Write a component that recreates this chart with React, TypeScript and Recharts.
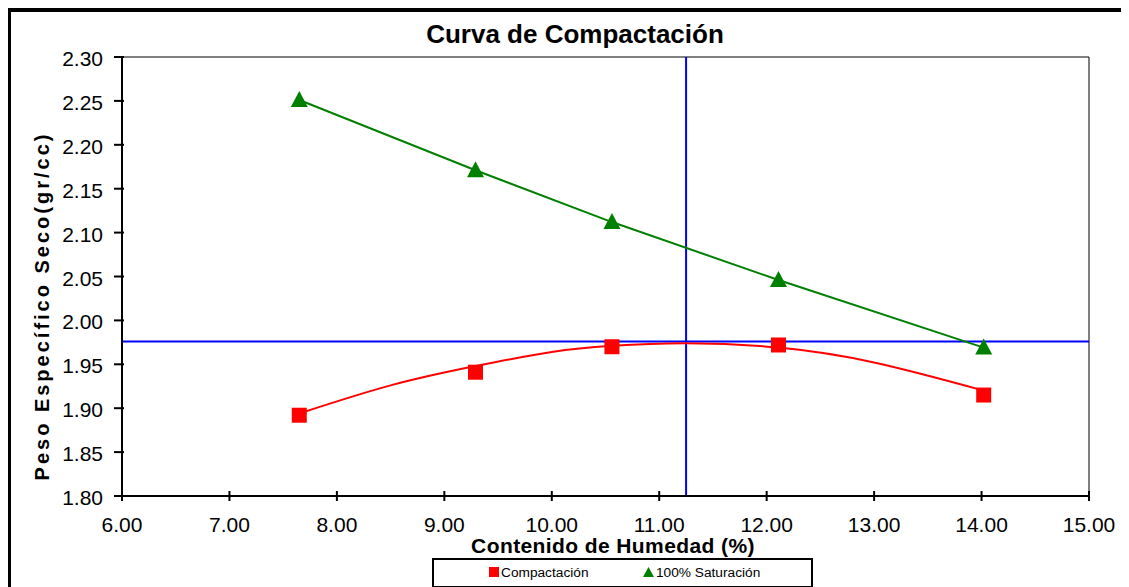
import { ComposedChart, Line, XAxis, YAxis, ReferenceLine } from 'recharts';

// Ensayo de compactación (Proctor)
const humedad = [7.65, 9.29, 10.56, 12.11, 14.02];
const pesoCompactacion = [1.892, 1.941, 1.97, 1.972, 1.915];
const pesoSaturacion = [2.251, 2.171, 2.112, 2.046, 1.969];

// curva de ajuste
const curvaHumedad = [7.65, 8.5, 9.29, 10.0, 10.56, 11.25, 12.11, 13.0, 14.02];
const curvaPeso = [1.894, 1.926, 1.948, 1.964, 1.971, 1.974, 1.969, 1.952, 1.92];

const humedadOptima = 11.25;
const densidadMaxima = 1.976;

const xTicks = [6, 7, 8, 9, 10, 11, 12, 13, 14, 15];
const yTicks = [1.8, 1.85, 1.9, 1.95, 2.0, 2.05, 2.1, 2.15, 2.2, 2.25, 2.3];

const FONT = '"Liberation Sans", Arial, sans-serif';

const compactacion = humedad.map((x, i) => ({ x, y: pesoCompactacion[i] }));
const saturacion = humedad.map((x, i) => ({ x, y: pesoSaturacion[i] }));
const curva = curvaHumedad.map((x, i) => ({ x, y: curvaPeso[i] }));

function XTick({ x, y, payload }: any) {
  return (
    <g>
      <line x1={x} x2={x} y1={y - 26} y2={y - 16} stroke="#000" strokeWidth={2} />
      <text x={x} y={y + 15} textAnchor="middle" fontSize={21} fontFamily={FONT} fill="#000">
        {Number(payload.value).toFixed(2)}
      </text>
    </g>
  );
}

function YTick({ x, y, payload }: any) {
  return (
    <g>
      <line x1={x + 11} x2={x + 21} y1={y} y2={y} stroke="#000" strokeWidth={2} />
      <text x={x} y={y + 9} textAnchor="end" fontSize={21} fontFamily={FONT} fill="#000">
        {Number(payload.value).toFixed(2)}
      </text>
    </g>
  );
}

function Square(props: any) {
  const { cx, cy, index } = props;
  if (cx == null || cy == null) return <g key={`sq-${index}`} />;
  return <rect key={`sq-${index}`} x={cx - 7.5} y={cy - 7.5} width={15} height={15} fill="#ff0000" />;
}

function Triangle(props: any) {
  const { cx, cy, index } = props;
  if (cx == null || cy == null) return <g key={`tr-${index}`} />;
  return (
    <path
      key={`tr-${index}`}
      d={`M${cx},${cy - 9} L${cx + 8.5},${cy + 7} L${cx - 8.5},${cy + 7} Z`}
      fill="#008000"
    />
  );
}

export default function App() {
  return (
    <div style={{ position: 'relative', width: 1121, height: 579, overflow: 'hidden', fontFamily: FONT }}>
      <div
        style={{
          position: 'absolute',
          left: 0,
          top: 0,
          width: 1121,
          height: 579,
          boxSizing: 'border-box',
          borderTop: '4px solid #000',
          borderLeft: '3px solid #000',
        }}
      />
      <div style={{ position: 'absolute', left: 3, top: 4 }}>
        <ComposedChart width={1118} height={575} margin={{ top: 45, right: 40, left: 0, bottom: 0 }}>
          <XAxis
            dataKey="x"
            type="number"
            domain={[6, 15]}
            ticks={xTicks}
            allowDataOverflow
            height={91}
            tickSize={0}
            tickMargin={21}
            tickLine={false}
            axisLine={{ stroke: '#000', strokeWidth: 2 }}
            tick={<XTick />}
          />
          <YAxis
            type="number"
            domain={[1.8, 2.3]}
            ticks={yTicks}
            allowDataOverflow
            width={111}
            tickSize={0}
            tickMargin={19}
            tickLine={false}
            axisLine={{ stroke: '#000', strokeWidth: 2 }}
            tick={<YTick />}
          />
          <ReferenceLine y={2.3} stroke="#000" strokeWidth={1} />
          <ReferenceLine x={15} stroke="#000" strokeWidth={1} />
          <ReferenceLine x={humedadOptima} stroke="#0000ff" strokeWidth={2} />
          <ReferenceLine y={densidadMaxima} stroke="#0000ff" strokeWidth={2} />
          <Line
            data={curva}
            dataKey="y"
            type="natural"
            stroke="#ff0000"
            strokeWidth={2}
            dot={false}
            activeDot={false}
            isAnimationActive={false}
          />
          <Line
            data={compactacion}
            dataKey="y"
            stroke="none"
            dot={<Square />}
            activeDot={false}
            isAnimationActive={false}
          />
          <Line
            data={saturacion}
            dataKey="y"
            type="linear"
            stroke="#008000"
            strokeWidth={2}
            dot={<Triangle />}
            activeDot={false}
            isAnimationActive={false}
          />
        </ComposedChart>
      </div>

      {/* título */}
      <div
        style={{
          position: 'absolute',
          left: 267,
          top: 13,
          width: 600,
          textAlign: 'center',
          fontSize: 26,
          lineHeight: '26px',
          fontWeight: 'bold',
          color: '#000',
        }}
      >
        Curva de Compactación
      </div>

      {/* eje Y */}
      <div
        style={{
          position: 'absolute',
          left: 34 - 250,
          top: 298 - 12,
          width: 500,
          height: 24,
          lineHeight: '24px',
          textAlign: 'center',
          fontSize: 20,
          fontWeight: 'bold',
          letterSpacing: 3,
          transform: 'rotate(-90deg)',
          color: '#000',
        }}
      >
        Peso Específico Seco(gr/cc)
      </div>

      {/* eje X */}
      <div
        style={{
          position: 'absolute',
          left: 605 - 250,
          top: 530,
          width: 500,
          textAlign: 'center',
          fontSize: 21,
          lineHeight: '15px',
          fontWeight: 'bold',
          letterSpacing: 0.4,
          color: '#000',
        }}
      >
        Contenido de Humedad (%)
      </div>

      {/* leyenda */}
      <div
        style={{
          position: 'absolute',
          left: 424,
          top: 550,
          width: 381,
          height: 30,
          boxSizing: 'border-box',
          border: '2px solid #000',
        }}
      />
      <div style={{ position: 'absolute', left: 481, top: 559, width: 10, height: 10, background: '#ff0000' }} />
      <div style={{ position: 'absolute', left: 493, top: 557, fontSize: 13.7, lineHeight: '16px', color: '#000' }}>
        Compactación
      </div>
      <svg style={{ position: 'absolute', left: 635, top: 559 }} width={11} height={10}>
        <path d="M5.5,0 L11,10 L0,10 Z" fill="#008000" />
      </svg>
      <div style={{ position: 'absolute', left: 648, top: 557, fontSize: 13.7, lineHeight: '16px', color: '#000' }}>
        100% Saturación
      </div>
    </div>
  );
}
